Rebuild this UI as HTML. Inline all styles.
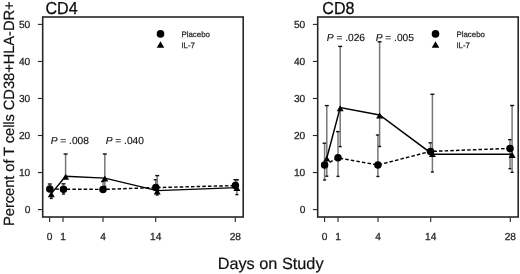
<!DOCTYPE html>
<html><head><meta charset="utf-8"><style>
html,body{margin:0;padding:0;background:#fff;}
svg{display:block;will-change:transform;text-rendering:geometricPrecision;}

text{font-family:"Liberation Sans",sans-serif;}
.tk{font-size:10.2px;fill:#222;stroke:#222;stroke-width:0.25px;}
.ttl{font-size:16.1px;fill:#0a0a0a;stroke:#0a0a0a;stroke-width:0.25px;}
.lg{font-size:7.9px;fill:#2c2c2c;stroke:#2c2c2c;stroke-width:0.25px;}
.pv{font-size:10.2px;fill:#111;stroke:#111;stroke-width:0.15px;}
.xl{font-size:16.3px;fill:#111;stroke:#111;stroke-width:0.2px;}
.yl{font-size:14.8px;fill:#111;stroke:#111;stroke-width:0.2px;}
</style></head><body>
<svg width="520" height="274" viewBox="0 0 520 274">
<rect width="520" height="274" fill="#fff"/>
<g>
<line x1="49.80" y1="184.00" x2="49.80" y2="189.00" stroke="#777777" stroke-width="1.5"/><line x1="47.80" y1="184.00" x2="51.80" y2="184.00" stroke="#111" stroke-width="1.4"/>
<line x1="63.50" y1="183.80" x2="63.50" y2="189.20" stroke="#777777" stroke-width="1.5"/><line x1="61.50" y1="183.80" x2="65.50" y2="183.80" stroke="#111" stroke-width="1.4"/><line x1="63.50" y1="194.00" x2="63.50" y2="189.20" stroke="#777777" stroke-width="1.5"/><line x1="62.00" y1="194.00" x2="65.00" y2="194.00" stroke="#111" stroke-width="1.4"/>
<line x1="103.00" y1="181.50" x2="103.00" y2="189.40" stroke="#777777" stroke-width="1.5"/><line x1="101.00" y1="181.50" x2="105.00" y2="181.50" stroke="#111" stroke-width="1.4"/>
<line x1="155.80" y1="179.70" x2="155.80" y2="187.60" stroke="#777777" stroke-width="1.5"/><line x1="153.80" y1="179.70" x2="157.80" y2="179.70" stroke="#111" stroke-width="1.4"/>
<line x1="235.40" y1="179.70" x2="235.40" y2="185.60" stroke="#777777" stroke-width="1.5"/><line x1="233.40" y1="179.70" x2="237.40" y2="179.70" stroke="#111" stroke-width="1.4"/>
<line x1="51.30" y1="198.40" x2="51.30" y2="195.30" stroke="#777777" stroke-width="1.5"/><line x1="49.80" y1="198.40" x2="52.80" y2="198.40" stroke="#111" stroke-width="1.4"/>
<line x1="65.60" y1="154.00" x2="65.60" y2="177.80" stroke="#777777" stroke-width="1.5"/><line x1="63.60" y1="154.00" x2="67.60" y2="154.00" stroke="#111" stroke-width="1.4"/>
<line x1="104.80" y1="154.00" x2="104.80" y2="179.60" stroke="#777777" stroke-width="1.5"/><line x1="102.80" y1="154.00" x2="106.80" y2="154.00" stroke="#111" stroke-width="1.4"/><line x1="104.80" y1="186.50" x2="104.80" y2="179.60" stroke="#777777" stroke-width="1.5"/><line x1="103.30" y1="186.50" x2="106.30" y2="186.50" stroke="#111" stroke-width="1.4"/>
<line x1="157.20" y1="175.60" x2="157.20" y2="192.60" stroke="#777777" stroke-width="1.5"/><line x1="155.20" y1="175.60" x2="159.20" y2="175.60" stroke="#111" stroke-width="1.4"/><line x1="157.20" y1="195.00" x2="157.20" y2="192.60" stroke="#777777" stroke-width="1.5"/><line x1="155.70" y1="195.00" x2="158.70" y2="195.00" stroke="#111" stroke-width="1.4"/>
<line x1="236.90" y1="179.70" x2="236.90" y2="189.00" stroke="#777777" stroke-width="1.5"/><line x1="234.90" y1="179.70" x2="238.90" y2="179.70" stroke="#111" stroke-width="1.4"/><line x1="236.90" y1="194.60" x2="236.90" y2="189.00" stroke="#777777" stroke-width="1.5"/><line x1="235.40" y1="194.60" x2="238.40" y2="194.60" stroke="#111" stroke-width="1.4"/>
<polyline points="49.80,189.00 63.50,189.20 103.00,189.40 155.80,187.60 235.40,185.60" fill="none" stroke="#000" stroke-width="1.45" stroke-dasharray="3.5 2.15"/>
<polyline points="51.30,193.60 65.60,176.30 104.80,178.10 157.20,190.60 236.90,187.60" fill="none" stroke="#000" stroke-width="1.45"/>
<circle cx="49.80" cy="189.00" r="3.75" fill="#000"/>
<circle cx="63.50" cy="189.20" r="3.75" fill="#000"/>
<circle cx="103.00" cy="189.40" r="3.75" fill="#000"/>
<circle cx="155.80" cy="187.60" r="3.75" fill="#000"/>
<circle cx="235.40" cy="185.60" r="3.75" fill="#000"/>
<path d="M51.30 191.26L54.80 197.32L47.80 197.32Z" fill="#000"/>
<path d="M65.60 173.76L69.10 179.82L62.10 179.82Z" fill="#000"/>
<path d="M104.80 175.56L108.30 181.62L101.30 181.62Z" fill="#000"/>
<path d="M157.20 188.56L160.70 194.62L153.70 194.62Z" fill="#000"/>
<path d="M236.90 184.96L240.40 191.02L233.40 191.02Z" fill="#000"/>
<rect x="42.7" y="17.0" width="200.5" height="200.0" fill="none" stroke="#262626" stroke-width="1.6"/>
<line x1="37.9" y1="209.60" x2="42.7" y2="209.60" stroke="#262626" stroke-width="1.1"/>
<text x="30.3" y="213.40" text-anchor="end" class="tk">0</text>
<line x1="37.9" y1="172.56" x2="42.7" y2="172.56" stroke="#262626" stroke-width="1.1"/>
<text x="30.3" y="176.36" text-anchor="end" class="tk">10</text>
<line x1="37.9" y1="135.52" x2="42.7" y2="135.52" stroke="#262626" stroke-width="1.1"/>
<text x="30.3" y="139.32" text-anchor="end" class="tk">20</text>
<line x1="37.9" y1="98.48" x2="42.7" y2="98.48" stroke="#262626" stroke-width="1.1"/>
<text x="30.3" y="102.28" text-anchor="end" class="tk">30</text>
<line x1="37.9" y1="61.44" x2="42.7" y2="61.44" stroke="#262626" stroke-width="1.1"/>
<text x="30.3" y="65.24" text-anchor="end" class="tk">40</text>
<line x1="37.9" y1="24.40" x2="42.7" y2="24.40" stroke="#262626" stroke-width="1.1"/>
<text x="30.3" y="28.20" text-anchor="end" class="tk">50</text>
<line x1="49.6" y1="217.0" x2="49.6" y2="221.9" stroke="#262626" stroke-width="1.1"/>
<text x="49.6" y="239.6" text-anchor="middle" class="tk">0</text>
<line x1="63.0" y1="217.0" x2="63.0" y2="221.9" stroke="#262626" stroke-width="1.1"/>
<text x="63.0" y="239.6" text-anchor="middle" class="tk">1</text>
<line x1="103.0" y1="217.0" x2="103.0" y2="221.9" stroke="#262626" stroke-width="1.1"/>
<text x="103.0" y="239.6" text-anchor="middle" class="tk">4</text>
<line x1="155.7" y1="217.0" x2="155.7" y2="221.9" stroke="#262626" stroke-width="1.1"/>
<text x="155.7" y="239.6" text-anchor="middle" class="tk">14</text>
<line x1="235.3" y1="217.0" x2="235.3" y2="221.9" stroke="#262626" stroke-width="1.1"/>
<text x="235.3" y="239.6" text-anchor="middle" class="tk">28</text>
<text transform="translate(45.4,13.6) scale(1,1.08)" class="ttl">CD4</text>
<circle cx="160.50" cy="33.90" r="3.8" fill="#000"/>
<path d="M160.50 41.17L164.25 47.66L156.75 47.66Z" fill="#000"/>
<text x="181.4" y="36.7" class="lg">Placebo</text>
<text x="181.4" y="47.9" class="lg">IL-7</text>
<text x="50.7" y="144.1" class="pv"><tspan font-style="italic">P</tspan> = .008</text>
<text x="105.7" y="144.1" class="pv"><tspan font-style="italic">P</tspan> = .040</text>
<line x1="324.60" y1="143.20" x2="324.60" y2="165.10" stroke="#777777" stroke-width="1.5"/><line x1="322.60" y1="143.20" x2="326.60" y2="143.20" stroke="#111" stroke-width="1.4"/><line x1="324.60" y1="180.00" x2="324.60" y2="165.10" stroke="#777777" stroke-width="1.5"/><line x1="323.10" y1="180.00" x2="326.10" y2="180.00" stroke="#111" stroke-width="1.4"/>
<line x1="338.00" y1="131.60" x2="338.00" y2="157.80" stroke="#777777" stroke-width="1.5"/><line x1="336.00" y1="131.60" x2="340.00" y2="131.60" stroke="#111" stroke-width="1.4"/><line x1="338.00" y1="176.40" x2="338.00" y2="157.80" stroke="#777777" stroke-width="1.5"/><line x1="336.50" y1="176.40" x2="339.50" y2="176.40" stroke="#111" stroke-width="1.4"/>
<line x1="377.90" y1="135.00" x2="377.90" y2="165.00" stroke="#777777" stroke-width="1.5"/><line x1="375.90" y1="135.00" x2="379.90" y2="135.00" stroke="#111" stroke-width="1.4"/><line x1="377.90" y1="176.50" x2="377.90" y2="165.00" stroke="#777777" stroke-width="1.5"/><line x1="376.40" y1="176.50" x2="379.40" y2="176.50" stroke="#111" stroke-width="1.4"/>
<line x1="430.50" y1="142.80" x2="430.50" y2="151.40" stroke="#777777" stroke-width="1.5"/><line x1="428.50" y1="142.80" x2="432.50" y2="142.80" stroke="#111" stroke-width="1.4"/>
<line x1="510.00" y1="139.60" x2="510.00" y2="148.40" stroke="#777777" stroke-width="1.5"/><line x1="508.00" y1="139.60" x2="512.00" y2="139.60" stroke="#111" stroke-width="1.4"/><line x1="510.00" y1="168.70" x2="510.00" y2="148.40" stroke="#777777" stroke-width="1.5"/><line x1="508.50" y1="168.70" x2="511.50" y2="168.70" stroke="#111" stroke-width="1.4"/>
<line x1="326.80" y1="105.60" x2="326.80" y2="159.50" stroke="#777777" stroke-width="1.5"/><line x1="324.80" y1="105.60" x2="328.80" y2="105.60" stroke="#111" stroke-width="1.4"/><line x1="326.80" y1="176.20" x2="326.80" y2="159.50" stroke="#777777" stroke-width="1.5"/><line x1="325.30" y1="176.20" x2="328.30" y2="176.20" stroke="#111" stroke-width="1.4"/>
<line x1="340.20" y1="46.40" x2="340.20" y2="109.20" stroke="#777777" stroke-width="1.5"/><line x1="338.20" y1="46.40" x2="342.20" y2="46.40" stroke="#111" stroke-width="1.4"/><line x1="340.20" y1="146.60" x2="340.20" y2="109.20" stroke="#777777" stroke-width="1.5"/><line x1="338.70" y1="146.60" x2="341.70" y2="146.60" stroke="#111" stroke-width="1.4"/>
<line x1="379.60" y1="41.80" x2="379.60" y2="116.60" stroke="#777777" stroke-width="1.5"/><line x1="377.60" y1="41.80" x2="381.60" y2="41.80" stroke="#111" stroke-width="1.4"/><line x1="379.60" y1="146.50" x2="379.60" y2="116.60" stroke="#777777" stroke-width="1.5"/><line x1="378.10" y1="146.50" x2="381.10" y2="146.50" stroke="#111" stroke-width="1.4"/>
<line x1="432.40" y1="94.30" x2="432.40" y2="155.00" stroke="#777777" stroke-width="1.5"/><line x1="430.40" y1="94.30" x2="434.40" y2="94.30" stroke="#111" stroke-width="1.4"/><line x1="432.40" y1="172.00" x2="432.40" y2="155.00" stroke="#777777" stroke-width="1.5"/><line x1="430.90" y1="172.00" x2="433.90" y2="172.00" stroke="#111" stroke-width="1.4"/>
<line x1="512.10" y1="105.50" x2="512.10" y2="155.90" stroke="#777777" stroke-width="1.5"/><line x1="510.10" y1="105.50" x2="514.10" y2="105.50" stroke="#111" stroke-width="1.4"/><line x1="512.10" y1="172.30" x2="512.10" y2="155.90" stroke="#777777" stroke-width="1.5"/><line x1="510.60" y1="172.30" x2="513.60" y2="172.30" stroke="#111" stroke-width="1.4"/>
<polyline points="324.60,165.10 338.00,157.80 377.90,165.00 430.50,151.40 510.00,148.40" fill="none" stroke="#000" stroke-width="1.45" stroke-dasharray="3.5 2.15"/>
<polyline points="326.80,158.00 340.20,107.60 379.60,115.00 432.40,154.20 512.10,154.30" fill="none" stroke="#000" stroke-width="1.45"/>
<circle cx="324.60" cy="165.10" r="3.75" fill="#000"/>
<circle cx="338.00" cy="157.80" r="3.75" fill="#000"/>
<circle cx="377.90" cy="165.00" r="3.75" fill="#000"/>
<circle cx="430.50" cy="151.40" r="3.75" fill="#000"/>
<circle cx="510.00" cy="148.40" r="3.75" fill="#000"/>
<path d="M326.80 155.46L330.30 161.52L323.30 161.52Z" fill="#000"/>
<path d="M340.20 105.16L343.70 111.22L336.70 111.22Z" fill="#000"/>
<path d="M379.60 112.56L383.10 118.62L376.10 118.62Z" fill="#000"/>
<path d="M432.40 150.96L435.90 157.02L428.90 157.02Z" fill="#000"/>
<path d="M512.10 151.86L515.60 157.92L508.60 157.92Z" fill="#000"/>
<rect x="317.7" y="17.0" width="200.5" height="200.0" fill="none" stroke="#262626" stroke-width="1.6"/>
<line x1="312.9" y1="209.60" x2="317.7" y2="209.60" stroke="#262626" stroke-width="1.1"/>
<text x="305.3" y="213.40" text-anchor="end" class="tk">0</text>
<line x1="312.9" y1="172.56" x2="317.7" y2="172.56" stroke="#262626" stroke-width="1.1"/>
<text x="305.3" y="176.36" text-anchor="end" class="tk">10</text>
<line x1="312.9" y1="135.52" x2="317.7" y2="135.52" stroke="#262626" stroke-width="1.1"/>
<text x="305.3" y="139.32" text-anchor="end" class="tk">20</text>
<line x1="312.9" y1="98.48" x2="317.7" y2="98.48" stroke="#262626" stroke-width="1.1"/>
<text x="305.3" y="102.28" text-anchor="end" class="tk">30</text>
<line x1="312.9" y1="61.44" x2="317.7" y2="61.44" stroke="#262626" stroke-width="1.1"/>
<text x="305.3" y="65.24" text-anchor="end" class="tk">40</text>
<line x1="312.9" y1="24.40" x2="317.7" y2="24.40" stroke="#262626" stroke-width="1.1"/>
<text x="305.3" y="28.20" text-anchor="end" class="tk">50</text>
<line x1="324.6" y1="217.0" x2="324.6" y2="221.9" stroke="#262626" stroke-width="1.1"/>
<text x="324.6" y="239.6" text-anchor="middle" class="tk">0</text>
<line x1="338.0" y1="217.0" x2="338.0" y2="221.9" stroke="#262626" stroke-width="1.1"/>
<text x="338.0" y="239.6" text-anchor="middle" class="tk">1</text>
<line x1="378.0" y1="217.0" x2="378.0" y2="221.9" stroke="#262626" stroke-width="1.1"/>
<text x="378.0" y="239.6" text-anchor="middle" class="tk">4</text>
<line x1="430.7" y1="217.0" x2="430.7" y2="221.9" stroke="#262626" stroke-width="1.1"/>
<text x="430.7" y="239.6" text-anchor="middle" class="tk">14</text>
<line x1="510.3" y1="217.0" x2="510.3" y2="221.9" stroke="#262626" stroke-width="1.1"/>
<text x="510.3" y="239.6" text-anchor="middle" class="tk">28</text>
<text transform="translate(322.3,13.6) scale(1,1.08)" class="ttl">CD8</text>
<circle cx="435.50" cy="33.90" r="3.8" fill="#000"/>
<path d="M435.50 41.17L439.25 47.66L431.75 47.66Z" fill="#000"/>
<text x="456.4" y="36.7" class="lg">Placebo</text>
<text x="456.4" y="47.9" class="lg">IL-7</text>
<text x="326.8" y="40.6" class="pv"><tspan font-style="italic">P</tspan> = .026</text>
<text x="375.7" y="40.6" class="pv"><tspan font-style="italic">P</tspan> = .005</text>
<text x="270.6" y="269.3" text-anchor="middle" class="xl">Days on Study</text>
<text transform="translate(13.5,113.6) rotate(-90)" x="0" y="0" text-anchor="middle" textLength="224.6" lengthAdjust="spacing" class="yl">Percent of T cells&#160;CD38+HLA-DR+</text>
</g>
</svg>
</body></html>
